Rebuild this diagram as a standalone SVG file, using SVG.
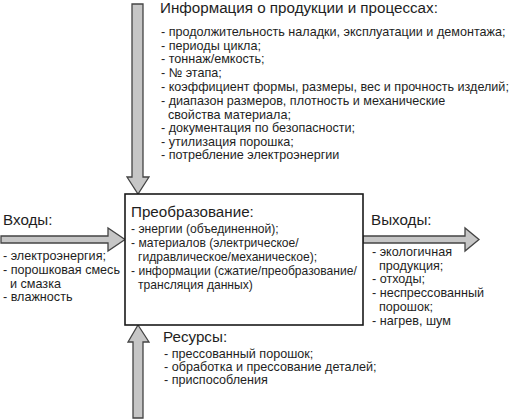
<svg xmlns="http://www.w3.org/2000/svg" width="513" height="419" viewBox="0 0 513 419">
<style>
.arrow{fill:#c6c6c6;stroke:#444;stroke-width:1.3;stroke-linejoin:miter}
.box{fill:#fff;stroke:#1a1a1a;stroke-width:1.6}
text{font-family:"Liberation Sans",Arial,sans-serif;fill:#1e1e1e}
.h{font-size:15.2px}
.t{font-size:12.6px}
.b{font-size:12.1px}
</style>
<rect width="513" height="419" fill="#fff"/>
<g id="connectors">
<polygon class="arrow" points="132,4 143,4 143,177 149,177 138,194 127,177 132,177"/>
<polygon class="arrow" points="1,236 108,236 108,228 125,239.5 108,251 108,243 1,243"/>
<polygon class="arrow" points="363,236 465,236 465,228 479,239.5 465,251 465,243 363,243"/>
<polygon class="arrow" points="138,325 149,342 143,342 143,418 133,418 133,342 128,342"/>
</g>
<g id="transform">
<rect class="box" x="125" y="194" width="238" height="131"/>
<text class="h" x="131" y="217">Преобразование:</text>
<text class="b" x="131" y="232.5">- энергии (объединенной);</text>
<text class="b" x="131" y="246.5">- материалов (электрическое/</text>
<text class="b" x="138" y="260.5">гидравлическое/механическое);</text>
<text class="b" x="131" y="274.5">- информации (сжатие/преобразование/</text>
<text class="b" x="138" y="288.5">трансляция данных)</text>
</g>
<g id="info">
<text class="h" x="160" y="13">Информация о продукции и процессах:</text>
<text class="t" x="161" y="36">- продолжительность наладки, эксплуатации и демонтажа;</text>
<text class="t" x="161" y="49.5">- периоды цикла;</text>
<text class="t" x="161" y="63">- тоннаж/емкость;</text>
<text class="t" x="161" y="77">- № этапа;</text>
<text class="t" x="161" y="91">- коэффициент формы, размеры, вес и прочность изделий;</text>
<text class="t" x="161" y="105">- диапазон размеров, плотность и механические</text>
<text class="t" x="168" y="118.5">свойства материала;</text>
<text class="t" x="161" y="132">- документация по безопасности;</text>
<text class="t" x="161" y="146">- утилизация порошка;</text>
<text class="t" x="161" y="159">- потребление электроэнергии</text>
</g>
<g id="inputs">
<text class="h" x="3" y="225">Входы:</text>
<text class="t" x="3" y="260">- электроэнергия;</text>
<text class="t" x="3" y="274">- порошковая смесь</text>
<text class="t" x="10" y="287.5">и смазка</text>
<text class="t" x="3" y="301">- влажность</text>
</g>
<g id="outputs">
<text class="h" x="371" y="225">Выходы:</text>
<text class="t" x="372" y="255.5">- экологичная</text>
<text class="t" x="379" y="270">продукция;</text>
<text class="t" x="372" y="283">- отходы;</text>
<text class="t" x="372" y="297">- неспрессованный</text>
<text class="t" x="379" y="310.5">порошок;</text>
<text class="t" x="372" y="324.5">- нагрев, шум</text>
</g>
<g id="resources">
<text class="h" x="163" y="342">Ресурсы:</text>
<text class="t" x="164" y="357.5">- прессованный порошок;</text>
<text class="t" x="164" y="371">- обработка и прессование деталей;</text>
<text class="t" x="164" y="384">- приспособления</text>
</g>
</svg>
